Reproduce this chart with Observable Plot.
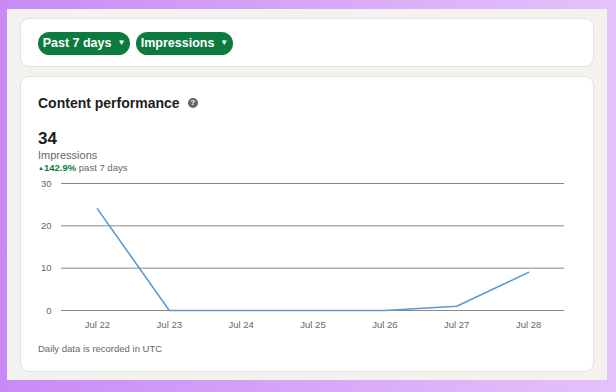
<!DOCTYPE html>
<html><head><meta charset="utf-8">
<script src="https://cdn.jsdelivr.net/npm/d3@7"></script>
<script src="https://cdn.jsdelivr.net/npm/@observablehq/plot@0.6"></script>
<style>
html,body{margin:0;padding:0;}
body{width:616px;height:392px;overflow:hidden;position:relative;background:linear-gradient(90deg,#c98af5 0%,#d7a6f8 50%,#e4c2fb 100%);font-family:"Liberation Sans","Helvetica",sans-serif;}
#panel{position:absolute;left:7px;top:9px;width:600px;height:371px;background:#f3f2ef;}
.card{position:absolute;left:21px;width:572px;background:#fff;border-radius:8px;box-shadow:0 0 0 1px #e4e2dd;}
#top{top:19px;height:47px;}
#main{top:77px;height:294px;}
.pill{position:absolute;top:32px;height:23px;line-height:23px;background:#0d7a40;color:#fff;font-weight:700;font-size:12.5px;border-radius:12px;text-align:center;white-space:nowrap;box-sizing:border-box;}
.pill .c{font-size:8px;margin-left:6px;position:relative;top:-2px;}
.abs{position:absolute;white-space:nowrap;}
#title{display:flex;align-items:center;}
#q{display:inline-block;width:10px;height:10px;border-radius:5px;background:#666;color:#fff;font-size:8px;font-weight:700;text-align:center;line-height:10px;margin-left:8px;}
#chart{position:absolute;left:30px;top:175px;}
</style></head><body>
<div id="panel"></div>
<div class="card" id="top"></div>
<div class="card" id="main"></div>
<div class="pill" style="left:38px;width:92px;">Past 7 days<span class="c">▼</span></div>
<div class="pill" style="left:136px;width:97px;">Impressions<span class="c">▼</span></div>
<div class="abs" id="title" style="left:38px;top:95px;font-size:14px;font-weight:700;color:#1d1d1d;"><span>Content performance</span><span id="q">?</span></div>
<div class="abs" style="left:38px;top:129px;font-size:17px;font-weight:700;color:#1d1d1d;">34</div>
<div class="abs" style="left:38px;top:149px;font-size:11px;color:#666;">Impressions</div>
<div class="abs" style="left:38px;top:162px;font-size:9.5px;color:#666;"><span style="color:#0a7a40;font-weight:700;"><span style="font-size:6px;position:relative;top:-1px;">▲</span>142.9%</span> past 7 days</div>
<div id="chart"></div>
<div class="abs" style="left:38px;top:343px;font-size:9.5px;color:#666;">Daily data is recorded in UTC</div>
<script>
const days = ["Jul 22","Jul 23","Jul 24","Jul 25","Jul 26","Jul 27","Jul 28"];
const impressions = [24,0,0,0,0,1,9];
const yTicks = [0,10,20,30];
const data = days.map((d,i)=>({day:d, value:impressions[i]}));
const chart = Plot.plot({
  width:545, height:160,
  marginLeft:31, marginRight:11, marginTop:8, marginBottom:25,
  style:{fontFamily:"Liberation Sans, Helvetica, sans-serif", fontSize:"9.5px", color:"#666", background:"transparent"},
  x:{type:"point", domain:days, padding:0.5, round:false, label:null},
  y:{domain:[0,30], label:null},
  marks:[
    Plot.ruleY(yTicks,{stroke:"#8a8a8a", strokeWidth:1, strokeOpacity:1}),
    Plot.axisY(yTicks,{tickSize:0, tickPadding:10, label:null, fill:"#666"}),
    Plot.axisX({tickSize:0, tickPadding:11, label:null, fill:"#666"}),
    Plot.line(data,{x:"day", y:"value", stroke:"#5a9bd3", strokeWidth:1.6})
  ]
});
document.getElementById("chart").appendChild(chart);
</script>
</body></html>
